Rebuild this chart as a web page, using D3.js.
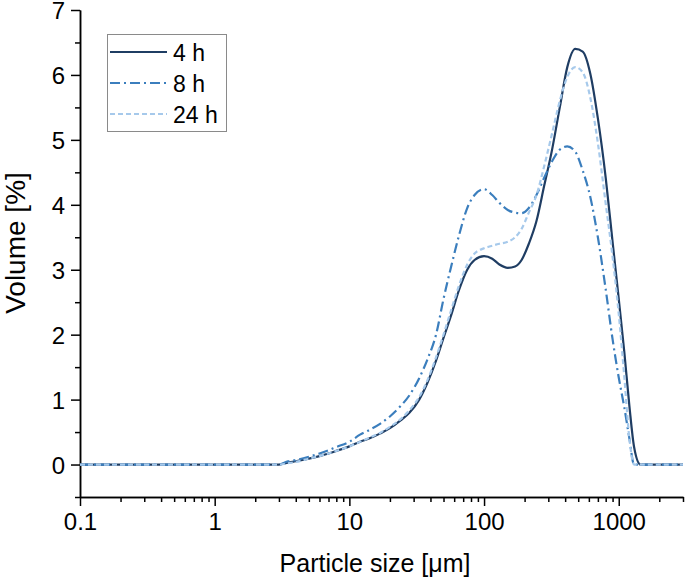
<!DOCTYPE html>
<html>
<head>
<meta charset="utf-8">
<script src="https://cdn.jsdelivr.net/npm/d3@7"></script>
<style>
	body { margin: 0; background: #fff; }
	svg { display: block; font-family: "Liberation Sans", Arial, sans-serif; }
	.axis path, .axis line { stroke: #000; stroke-width: 1.5; }
	.axis text { fill: #000; }
</style>
</head>
<body>
<div id="chart"></div>
<script>
// particle size distribution
const sizes  = [0.1, 3, 3.5, 4, 5, 6, 7, 8, 10, 12, 14, 17, 20, 24, 28, 33, 38, 44, 50, 57, 65, 75, 85, 100, 115, 130, 150, 170, 190, 215, 245, 280, 320, 365, 415, 475, 540, 615, 700, 800, 900, 1000, 1100, 1200, 1300, 1450, 3000];
const vol4h  = [0, 0, 0.03, 0.05, 0.09, 0.13, 0.17, 0.21, 0.28, 0.35, 0.40, 0.48, 0.56, 0.68, 0.80, 1.00, 1.26, 1.60, 1.95, 2.30, 2.68, 3.00, 3.15, 3.21, 3.17, 3.08, 3.03, 3.05, 3.15, 3.40, 3.75, 4.30, 4.85, 5.50, 6.12, 6.40, 6.36, 6.02, 5.33, 4.42, 3.43, 2.55, 1.73, 0.90, 0.27, 0, 0];
const vol8h  = [0, 0, 0.05, 0.07, 0.12, 0.17, 0.22, 0.27, 0.35, 0.46, 0.53, 0.63, 0.74, 0.90, 1.07, 1.33, 1.62, 2.00, 2.55, 3.05, 3.52, 3.95, 4.15, 4.24, 4.15, 4.03, 3.92, 3.88, 3.87, 3.95, 4.15, 4.42, 4.67, 4.85, 4.90, 4.82, 4.53, 4.12, 3.50, 2.70, 1.93, 1.34, 0.88, 0.40, 0, 0, 0];
const vol24h = [0, 0, 0.02, 0.04, 0.09, 0.13, 0.17, 0.21, 0.28, 0.35, 0.41, 0.49, 0.58, 0.70, 0.84, 1.04, 1.30, 1.65, 2.00, 2.38, 2.75, 3.08, 3.25, 3.33, 3.37, 3.40, 3.43, 3.50, 3.63, 3.88, 4.15, 4.60, 5.10, 5.60, 5.97, 6.12, 6.04, 5.65, 4.95, 4.02, 3.20, 2.32, 1.35, 0.40, 0, 0, 0];

const seriesNames = ["4 h", "8 h", "24 h"];
const xTicks = [0.1, 1, 10, 100, 1000];
const xTickLabels = ["0.1", "1", "10", "100", "1000"];
const yTicks = [0, 1, 2, 3, 4, 5, 6, 7];

const w = 685, h = 579;
const colors = ["#1f3d63", "#3b7ebd", "#a6c9eb"];
const dashes = [null, "10,4,2,4", "5,3"];

let svg = d3.select("#chart").append("svg")
	.attr("width", w).attr("height", h);

const x = d3.scaleLog().domain([0.1, 3000]).range([80, 683]);
const y = d3.scaleLinear().domain([-0.5, 7]).range([497, 10]);

// minor tick positions
let xMinor = [];
[0.1, 1, 10, 100, 1000].forEach(function(d) {
	for (let k = 2; k <= 9; k++) if (d * k <= 3000) xMinor.push(d * k);
});
const yMinor = d3.range(-0.5, 7, 1);

// axes
svg.append("g").attr("class", "axis")
	.attr("transform", "translate(0," + y(-0.5) + ")")
	.call(d3.axisBottom(x).tickValues(xMinor).tickSize(5).tickFormat("").tickSizeOuter(0));
let xa = svg.append("g").attr("class", "axis")
	.attr("transform", "translate(0," + y(-0.5) + ")")
	.call(d3.axisBottom(x).tickValues(xTicks).tickSize(9).tickPadding(7).tickSizeOuter(0)
		.tickFormat(function(d, i) { return xTickLabels[i] }));
xa.selectAll("text").attr("font-size", 24);

svg.append("g").attr("class", "axis")
	.attr("transform", "translate(" + x(0.1) + ",0)")
	.call(d3.axisLeft(y).tickValues(yMinor).tickSize(5).tickFormat("").tickSizeOuter(0));
let ya = svg.append("g").attr("class", "axis")
	.attr("transform", "translate(" + x(0.1) + ",0)")
	.call(d3.axisLeft(y).tickValues(yTicks).tickSize(9).tickPadding(6).tickSizeOuter(0).tickFormat(d3.format("d")));
ya.selectAll("text").attr("font-size", 24).attr("dy", "0.36em");

// axis titles
svg.append("text")
	.attr("x", 375).attr("y", 572)
	.attr("text-anchor", "middle").attr("font-size", 25)
	.text("Particle size [\u03bcm]");
svg.append("text")
	.attr("transform", "translate(25,243) rotate(-90)")
	.attr("text-anchor", "middle").attr("font-size", 28)
	.text("Volume [%]");

// lines
const series = [vol4h, vol8h, vol24h];
const line = d3.line()
	.x(function(d, i) { return x(sizes[i]) })
	.y(function(d) { return y(d) })
	.curve(d3.curveMonotoneX);

svg.append("g").selectAll("path")
	.data(series)
	.enter()
	.append("path")
	.attr("d", line)
	.attr("fill", "none")
	.attr("stroke", function(d, i) { return colors[i] })
	.attr("stroke-width", 2.2)
	.attr("stroke-dasharray", function(d, i) { return dashes[i] });

// legend
let legend = svg.append("g");
legend.append("rect")
	.attr("x", 107.5).attr("y", 34.5).attr("width", 119).attr("height", 97)
	.attr("fill", "#fff").attr("stroke", "#8a8a8a").attr("stroke-width", 1);
seriesNames.forEach(function(name, i) {
	let ly = 52 + i * 31;
	legend.append("line")
		.attr("x1", 110).attr("x2", 167).attr("y1", ly).attr("y2", ly)
		.attr("stroke", colors[i]).attr("stroke-width", 2.2)
		.attr("stroke-dasharray", dashes[i]);
	legend.append("text")
		.attr("x", 173).attr("y", ly + 8.5)
		.attr("font-size", 23)
		.text(name);
});
</script>
</body>
</html>
